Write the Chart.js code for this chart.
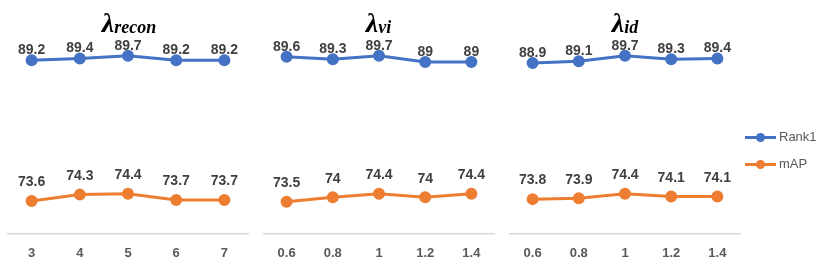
<!DOCTYPE html>
<html>
<head>
<meta charset="utf-8">
<script src="https://cdn.jsdelivr.net/npm/chart.js@4/dist/chart.umd.min.js"></script>
<style>
  body { margin: 0; background: #fff; }
  #wrap { position: relative; width: 830px; height: 266px; overflow: hidden; }
  .panel { position: absolute; top: 0; height: 273px; }
  .title { position: absolute; top: 7px; text-align: center; font-family: "Liberation Serif", serif;
           font-weight: bold; font-style: italic; color: #000; white-space: nowrap; }
  .title .lam { font-size: 28px; }
  .title sub { font-size: 18px; position: relative; top: 1px; vertical-align: baseline; }
  .legend { position: absolute; left: 745px; font-family: "Liberation Sans", sans-serif; font-size: 13px; color: #595959; }
  .legend div { height: 16px; line-height: 16px; display: flex; align-items: center; }
  .legend .sw { position: relative; width: 31px; height: 3px; margin-right: 3px; }
  .legend .sw i { position: absolute; left: 11px; top: -3px; width: 9px; height: 9px; border-radius: 50%; }
</style>
</head>
<body>
<div id="wrap">
  <div class="panel" style="left:0;width:256px"><canvas id="c1"></canvas></div>
  <div class="panel" style="left:256px;width:246px"><canvas id="c2"></canvas></div>
  <div class="panel" style="left:502px;width:246px"><canvas id="c3"></canvas></div>
  <div class="title" style="left:7px;width:244px"><span class="lam">λ</span><sub>recon</sub></div>
  <div class="title" style="left:260px;width:237px"><span class="lam">λ</span><sub>vi</sub></div>
  <div class="title" style="left:507px;width:236px"><span class="lam">λ</span><sub>id</sub></div>
  <div class="legend" style="top:129px">
    <div><span class="sw" style="background:#4472C4"><i style="background:#4472C4"></i></span>Rank1</div>
  </div>
  <div class="legend" style="top:156px">
    <div><span class="sw" style="background:#ED7D31"><i style="background:#ED7D31"></i></span>mAP</div>
  </div>
</div>
<script>
const reconTicks = ['3', '4', '5', '6', '7'];
const viTicks = ['0.6', '0.8', '1', '1.2', '1.4'];
const idTicks = ['0.6', '0.8', '1', '1.2', '1.4'];

const reconRank1 = [89.2, 89.4, 89.7, 89.2, 89.2];
const reconMap = [73.6, 74.3, 74.4, 73.7, 73.7];
const viRank1 = [89.6, 89.3, 89.7, 89, 89];
const viMap = [73.5, 74, 74.4, 74, 74.4];
const idRank1 = [88.9, 89.1, 89.7, 89.3, 89.4];
const idMap = [73.8, 73.9, 74.4, 74.1, 74.1];

const blue = '#4472C4';
const orange = '#ED7D31';

// draws the value above every point
const pointLabels = {
  id: 'pointLabels',
  afterDatasetsDraw(chart) {
    const ctx = chart.ctx;
    ctx.save();
    ctx.font = 'bold 14px "Liberation Sans", sans-serif';
    ctx.fillStyle = '#404040';
    ctx.textAlign = 'center';
    ctx.textBaseline = 'middle';
    chart.data.datasets.forEach((ds, i) => {
      chart.getDatasetMeta(i).data.forEach((pt, j) => {
        ctx.fillText(ds.data[j], pt.x, pt.y - ds.labelGap);
      });
    });
    ctx.restore();
  }
};

function makeChart(id, ticks, rank1, map, padL, padR) {
  const ctx = document.getElementById(id).getContext('2d');
  return new Chart(ctx, {
    type: 'line',
    data: {
      labels: ticks,
      datasets: [
        { label: 'Rank1', data: rank1, borderColor: blue, backgroundColor: blue, borderWidth: 3,
          pointRadius: 4.5, pointHoverRadius: 4.5, labelGap: 10 },
        { label: 'mAP', data: map, borderColor: orange, backgroundColor: orange, borderWidth: 3,
          pointRadius: 4.5, pointHoverRadius: 4.5, labelGap: 18.5 }
      ]
    },
    options: {
      responsive: true,
      maintainAspectRatio: false,
      animation: false,
      layout: { padding: { left: padL, right: padR, top: 35, bottom: 0 } },
      plugins: { legend: { display: false }, tooltip: { enabled: false } },
      scales: {
        y: { display: false, min: 70, max: 92 },
        x: {
          offset: true,
          grid: { display: false, drawTicks: false },
          border: { display: true, color: '#D9D9D9', width: 1.5 },
          ticks: { color: '#595959', padding: 12, font: { family: 'Liberation Sans', size: 13, weight: 'bold' } }
        }
      }
    },
    plugins: [pointLabels]
  });
}

makeChart('c1', reconTicks, reconRank1, reconMap, 7, 5);
makeChart('c2', viTicks, viRank1, viMap, 4, 5);
makeChart('c3', idTicks, idRank1, idMap, 5, 5);
</script>
</body>
</html>
